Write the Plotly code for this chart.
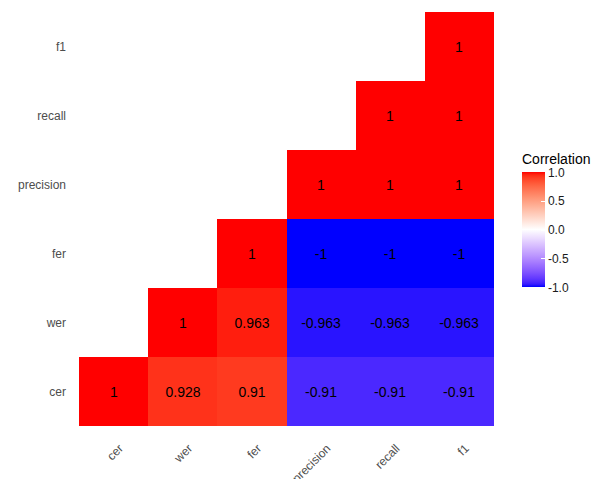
import plotly.graph_objects as go
import numpy as np

# Variables (bottom-to-top on y, left-to-right on x)
variables = ["cer", "wer", "fer", "precision", "recall", "f1"]

# Upper part of the correlation matrix, one list per row (starting at the diagonal)
row_cer = [1, 0.928, 0.91, -0.91, -0.91, -0.91]
row_wer = [1, 0.963, -0.963, -0.963, -0.963]
row_fer = [1, -1, -1, -1]
row_precision = [1, 1, 1]
row_recall = [1, 1]
row_f1 = [1]

rows = [row_cer, row_wer, row_fer, row_precision, row_recall, row_f1]

z = []
text = []
for i, r in enumerate(rows):
    zr = [None] * i + list(r)
    z.append(zr)
    text.append(["" if v is None else f"{v:g}" for v in zr])


# Diverging blue-white-red scale interpolated in CIE Lab (like gradient2)
def srgb_to_lin(c):
    c = c / 255.0
    return np.where(c <= 0.04045, c / 12.92, ((c + 0.055) / 1.055) ** 2.4)


def lin_to_srgb(c):
    c = np.clip(c, 0, 1)
    return np.where(c <= 0.0031308, 12.92 * c, 1.055 * c ** (1 / 2.4) - 0.055) * 255


M = np.array([[0.4124, 0.3576, 0.1805], [0.2126, 0.7152, 0.0722], [0.0193, 0.1192, 0.9505]])
WP = np.array([0.95047, 1.0, 1.08883])


def f(t):
    return np.where(t > 216 / 24389, np.cbrt(t), (24389 / 27 * t + 16) / 116)


def finv(t):
    return np.where(t ** 3 > 216 / 24389, t ** 3, (116 * t - 16) / (24389 / 27))


def rgb_to_lab(rgb):
    xyz = M @ srgb_to_lin(np.array(rgb, float)) / WP
    fx, fy, fz = f(xyz)
    return np.array([116 * fy - 16, 500 * (fx - fy), 200 * (fy - fz)])


def lab_to_rgb(lab):
    L, a, b = lab
    fy = (L + 16) / 116
    fx = fy + a / 500
    fz = fy - b / 200
    xyz = np.array([finv(fx), finv(fy), finv(fz)]) * WP
    return lin_to_srgb(np.linalg.solve(M, xyz))


low, mid, high = rgb_to_lab((0, 0, 255)), rgb_to_lab((255, 255, 255)), rgb_to_lab((255, 0, 0))
colorscale = []
for s in np.linspace(0, 1, 41):
    if s < 0.5:
        lab = low + (mid - low) * (s / 0.5)
    else:
        lab = mid + (high - mid) * ((s - 0.5) / 0.5)
    r, g, b = lab_to_rgb(lab)
    colorscale.append([float(s), f"rgb({int(round(r))},{int(round(g))},{int(round(b))})"])

FONT = "Liberation Sans, Arial, sans-serif"
W, H = 595, 479
L_M, R_M, T_M, B_M = 79, 101, 12, 53
PW, PH = W - L_M - R_M, H - T_M - B_M


def px_x(x):
    return (x - L_M) / PW


def px_y(y):
    return (H - B_M - y) / PH


fig = go.Figure(
    go.Heatmap(
        x=variables,
        y=variables,
        z=z,
        text=text,
        texttemplate="%{text}",
        textfont=dict(size=14, color="black", family=FONT),
        colorscale=colorscale,
        zmin=-1,
        zmax=1,
        hoverongaps=False,
        colorbar=dict(
            x=px_x(522),
            xanchor="left",
            y=px_y(230),
            yanchor="middle",
            len=115,
            lenmode="pixels",
            thickness=23,
            thicknessmode="pixels",
            xpad=0,
            ypad=0,
            outlinewidth=0,
            tickvals=[-1, -0.5, 0, 0.5, 1],
            ticktext=["-1.0", "-0.5", "0.0", "0.5", "1.0"],
            ticks="inside",
            ticklen=4,
            tickcolor="white",
            tickfont=dict(size=12, color="#1a1a1a"),
        ),
    )
)

# Legend title above the colour bar
fig.add_annotation(
    text="Correlation", xref="paper", yref="paper",
    x=px_x(520), y=px_y(159),
    xanchor="left", yanchor="middle", showarrow=False,
    font=dict(size=14, color="black", family=FONT),
)

fig.update_layout(
    width=W,
    height=H,
    margin=dict(l=L_M, r=R_M, t=T_M, b=B_M, autoexpand=False),
    plot_bgcolor="white",
    paper_bgcolor="white",
    font=dict(family=FONT, color="#4d4d4d"),
)
fig.update_xaxes(
    showgrid=False, zeroline=False, showline=False, ticks="",
    tickangle=-45, tickfont=dict(size=12, color="#4d4d4d"),
    ticklabelshift=6, ticklabelstandoff=12,
    categoryorder="array", categoryarray=variables,
)
fig.update_yaxes(
    showgrid=False, zeroline=False, showline=False, ticks="",
    tickfont=dict(size=12, color="#4d4d4d"), ticklabelstandoff=12,
    categoryorder="array", categoryarray=variables,
)

fig.write_html("out.html")
